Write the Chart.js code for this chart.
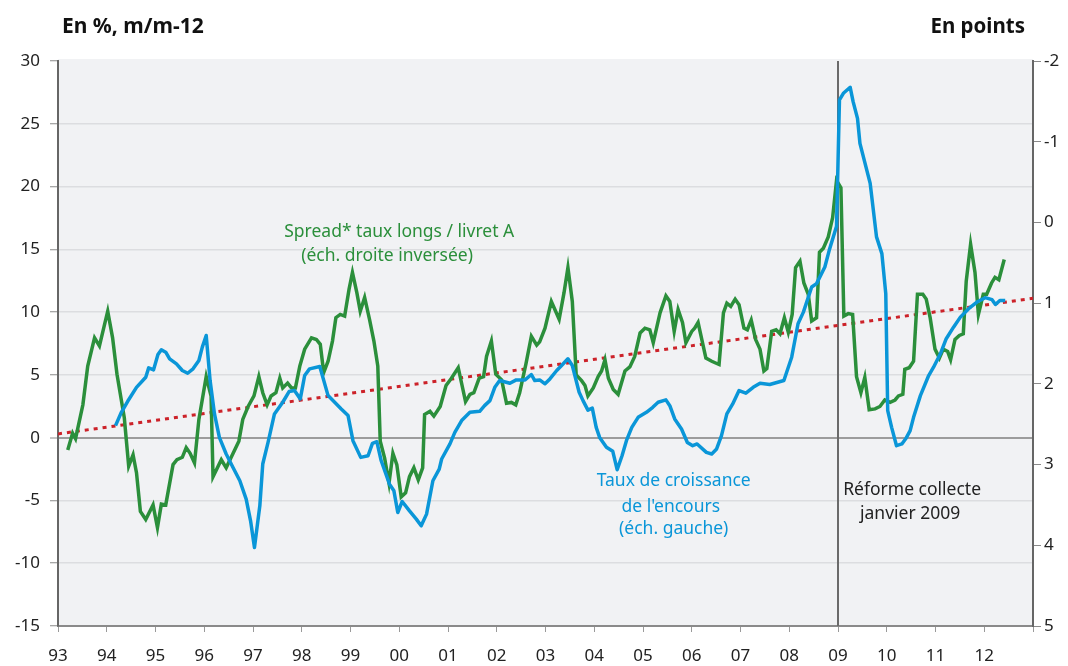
<!DOCTYPE html>
<html>
<head>
<meta charset="utf-8">
<script src="https://cdn.jsdelivr.net/npm/chart.js@4"></script>
<style>
  html,body{margin:0;padding:0;background:#fff;}
  #c{display:block;}
</style>
</head>
<body>
<canvas id="c" width="1068" height="666"></canvas>
<script>
// ---- Data ----
// Green: spread taux longs / livret A (right axis, inverted, points)
const greenYears = [
1993.20,1993.30,1993.36,1993.51,1993.61,1993.75,1993.85,1994.02,1994.12,1994.21,
1994.36,1994.45,1994.54,1994.61,1994.69,1994.80,1994.95,1995.04,1995.12,1995.21,
1995.36,1995.44,1995.55,1995.63,1995.71,1995.80,1995.89,1996.04,1996.14,1996.18,
1996.35,1996.45,1996.71,1996.79,1996.90,1997.02,1997.12,1997.20,1997.29,1997.37,
1997.47,1997.55,1997.61,1997.71,1997.79,1997.87,1997.96,1998.06,1998.20,1998.30,
1998.38,1998.45,1998.54,1998.63,1998.70,1998.79,1998.88,1998.97,1999.04,1999.13,
1999.20,1999.29,1999.39,1999.48,1999.56,1999.61,1999.70,1999.79,1999.87,1999.95,
2000.04,2000.13,2000.21,2000.30,2000.39,2000.48,2000.52,2000.63,2000.71,2000.84,
2000.96,2001.07,2001.21,2001.36,2001.45,2001.53,2001.64,2001.73,2001.79,2001.89,
2001.98,2002.10,2002.20,2002.30,2002.39,2002.47,2002.60,2002.71,2002.82,2002.88,
2002.99,2003.12,2003.28,2003.38,2003.46,2003.55,2003.63,2003.74,2003.81,2003.87,
2003.98,2004.08,2004.15,2004.22,2004.29,2004.39,2004.49,2004.63,2004.73,2004.83,
2004.94,2005.04,2005.14,2005.21,2005.35,2005.47,2005.55,2005.64,2005.72,2005.81,
2005.88,2006.00,2006.06,2006.13,2006.29,2006.41,2006.56,2006.65,2006.72,2006.80,
2006.89,2006.97,2007.07,2007.14,2007.22,2007.31,2007.40,2007.48,2007.54,2007.64,
2007.73,2007.81,2007.90,2007.98,2008.06,2008.13,2008.22,2008.30,2008.39,2008.46,
2008.56,2008.62,2008.70,2008.80,2008.89,2008.97,2009.06,2009.12,2009.21,2009.30,
2009.38,2009.47,2009.55,2009.64,2009.76,2009.86,2009.96,2010.07,2010.17,2010.24,
2010.33,2010.37,2010.46,2010.55,2010.63,2010.74,2010.81,2010.89,2010.99,2011.08,
2011.16,2011.25,2011.31,2011.40,2011.49,2011.57,2011.63,2011.72,2011.81,2011.88,
2011.98,2012.05,2012.15,2012.22,2012.30,2012.41];
const greenValues = [
2.82,2.61,2.68,2.26,1.78,1.43,1.53,1.10,1.43,1.88,
2.42,3.02,2.88,3.10,3.58,3.68,3.50,3.78,3.49,3.50,
3.00,2.94,2.91,2.79,2.86,2.98,2.44,1.91,2.15,3.15,
2.94,3.04,2.71,2.44,2.28,2.15,1.91,2.11,2.26,2.15,
2.11,1.93,2.05,1.99,2.05,2.05,1.78,1.57,1.43,1.45,
1.51,1.86,1.72,1.47,1.18,1.14,1.16,0.83,0.62,0.87,
1.10,0.93,1.20,1.47,1.78,2.71,2.92,3.23,2.86,3.00,
3.40,3.35,3.15,3.04,3.19,3.04,2.38,2.34,2.40,2.28,
2.02,1.93,1.80,2.22,2.13,2.11,1.93,1.91,1.66,1.47,
1.88,1.95,2.24,2.23,2.26,2.11,1.75,1.41,1.52,1.48,
1.31,0.98,1.20,0.87,0.56,0.98,1.89,1.96,2.02,2.15,
2.05,1.91,1.84,1.70,1.93,2.07,2.13,1.84,1.79,1.66,
1.37,1.31,1.33,1.49,1.12,0.91,0.98,1.35,1.08,1.24,
1.49,1.35,1.31,1.24,1.68,1.72,1.76,1.12,1.00,1.04,
0.95,1.02,1.31,1.33,1.21,1.45,1.57,1.84,1.81,1.35,
1.33,1.38,1.18,1.36,1.14,0.56,0.48,0.75,0.89,1.22,
1.18,0.37,0.32,0.18,-0.06,-0.52,-0.43,1.16,1.13,1.14,
1.91,2.11,1.92,2.32,2.31,2.28,2.20,2.23,2.20,2.15,
2.13,1.82,1.80,1.72,0.89,0.89,0.95,1.18,1.57,1.68,
1.57,1.60,1.70,1.45,1.40,1.38,0.73,0.27,0.62,1.14,
0.89,0.89,0.75,0.68,0.71,0.46];

// Blue: taux de croissance de l'encours (left axis, %)
const blueYears = [
1994.18,1994.30,1994.43,1994.61,1994.80,1994.86,1994.96,1995.05,1995.12,1995.21,
1995.29,1995.43,1995.55,1995.66,1995.77,1995.89,1995.96,1996.04,1996.12,1996.21,
1996.31,1996.45,1996.59,1996.73,1996.86,1996.95,1997.03,1997.14,1997.20,1997.31,
1997.44,1997.61,1997.74,1997.85,1997.97,1998.06,1998.16,1998.37,1998.54,1998.71,
1998.81,1998.95,1999.05,1999.21,1999.36,1999.45,1999.54,1999.63,1999.80,1999.89,
1999.97,2000.06,2000.21,2000.35,2000.45,2000.56,2000.69,2000.82,2000.87,2001.04,
2001.14,2001.28,2001.45,2001.65,2001.75,2001.86,2001.96,2002.06,2002.27,2002.40,
2002.58,2002.71,2002.78,2002.88,2002.99,2003.09,2003.23,2003.33,2003.46,2003.55,
2003.69,2003.77,2003.87,2003.96,2004.04,2004.11,2004.25,2004.38,2004.47,2004.57,
2004.66,2004.77,2004.90,2005.07,2005.20,2005.31,2005.47,2005.55,2005.65,2005.79,
2005.91,2006.02,2006.11,2006.30,2006.41,2006.51,2006.61,2006.72,2006.84,2006.97,
2007.11,2007.26,2007.40,2007.60,2007.89,2008.05,2008.18,2008.29,2008.46,2008.56,
2008.73,2008.82,2008.97,2009.03,2009.11,2009.25,2009.31,2009.40,2009.45,2009.66,
2009.79,2009.90,2009.98,2010.02,2010.10,2010.20,2010.31,2010.40,2010.48,2010.55,
2010.69,2010.86,2010.96,2011.10,2011.22,2011.37,2011.51,2011.68,2011.85,2012.02,
2012.16,2012.23,2012.32,2012.43];
const blueValues = [
0.96,2.02,2.90,4.01,4.81,5.56,5.40,6.62,7.00,6.81,
6.28,5.88,5.35,5.13,5.48,6.15,7.21,8.14,4.55,1.89,
0.02,-1.30,-2.37,-3.43,-4.89,-6.62,-8.75,-5.43,-2.10,-0.36,
1.89,2.82,3.67,3.75,3.09,4.95,5.48,5.67,3.35,2.69,
2.29,1.76,-0.24,-1.57,-1.44,-0.45,-0.32,-1.84,-3.70,-4.23,
-5.96,-5.08,-5.83,-6.49,-7.02,-6.09,-3.43,-2.50,-1.70,-0.50,
0.42,1.36,2.02,2.10,2.55,2.95,4.01,4.55,4.33,4.60,
4.60,5.03,4.55,4.60,4.29,4.68,5.35,5.75,6.28,5.75,
3.62,2.95,2.19,2.35,0.82,0.02,-0.77,-1.09,-2.55,-1.44,
-0.24,0.82,1.62,2.02,2.42,2.82,3.01,2.55,1.49,0.69,
-0.38,-0.64,-0.50,-1.17,-1.30,-0.90,0.16,1.89,2.69,3.75,
3.54,4.01,4.33,4.23,4.55,6.41,9.07,10.00,12.00,12.27,
13.59,14.92,16.84,26.90,27.43,27.91,26.76,25.43,23.44,20.25,
15.99,14.66,11.47,2.15,0.82,-0.64,-0.50,-0.02,0.56,1.62,
3.35,4.95,5.61,6.68,7.88,8.80,9.60,10.27,10.80,11.15,
10.99,10.61,10.93,10.93];

// Red dotted trend (left axis)
const trendYears = [1993, 2013];
const trendValues = [0.3, 11.1];

// Reform date
const reformYear = 2009;

// Axis ranges / ticks
const xMin = 1993, xMax = 2013;
const leftMin = -15, leftMax = 30, leftStep = 5;
const rightMin = -2, rightMax = 5, rightStep = 1;

const toPts = (xs, ys) => xs.map((x, i) => ({x: x, y: ys[i]}));

const GREEN = '#2b8f3b';
const BLUE = '#0a96d8';
const FONT = "'Noto Sans', 'Open Sans', sans-serif";

const bgPlugin = {
  id: 'bg',
  beforeDraw(chart) {
    const {ctx, chartArea: a} = chart;
    ctx.save();
    ctx.fillStyle = '#ffffff';
    ctx.fillRect(0, 0, chart.width, chart.height);
    ctx.fillStyle = '#f1f2f4';
    ctx.fillRect(a.left, a.top - 2, a.right - a.left, a.bottom - a.top + 2);
    ctx.restore();
  }
};

const textPlugin = {
  id: 'texts',
  afterDraw(chart) {
    const {ctx} = chart;
    const xs = chart.scales.x, ys = chart.scales.y;
    ctx.save();
    ctx.textBaseline = 'middle';
    // axis titles
    ctx.fillStyle = '#111';
    ctx.font = "bold 21px " + FONT;
    ctx.textAlign = 'left';
    ctx.fillText('En %, m/m-12', 62, 27);
    ctx.font = "bold 20.5px " + FONT;
    ctx.textAlign = 'right';
    ctx.fillText('En points', 1025, 27);
    // annotations
    ctx.font = "17.5px " + FONT;
    ctx.textAlign = 'center';
    ctx.fillStyle = GREEN;
    ctx.fillText('Spread* taux longs / livret A', xs.getPixelForValue(2000.0), ys.getPixelForValue(16.35));
    ctx.fillText('(éch. droite inversée)', xs.getPixelForValue(1999.75), ys.getPixelForValue(14.45));
    ctx.fillStyle = BLUE;
    ctx.fillText('Taux de croissance', xs.getPixelForValue(2005.63), ys.getPixelForValue(-3.45));
    ctx.fillText("de l'encours", xs.getPixelForValue(2005.57), ys.getPixelForValue(-5.5));
    ctx.fillText('(éch. gauche)', xs.getPixelForValue(2005.63), ys.getPixelForValue(-7.3));
    ctx.fillStyle = '#222';
    ctx.fillText('Réforme collecte', xs.getPixelForValue(2010.52), ys.getPixelForValue(-4.2));
    ctx.fillText('janvier 2009', xs.getPixelForValue(2010.48), ys.getPixelForValue(-6.1));
    ctx.restore();
  }
};

new Chart(document.getElementById('c'), {
  type: 'line',
  data: {
    datasets: [
      {label: 'blue', data: toPts(blueYears, blueValues), yAxisID: 'y',
       borderColor: BLUE, borderWidth: 3.5, pointRadius: 0, tension: 0, borderJoinStyle: 'round'},
      {label: 'green', data: toPts(greenYears, greenValues), yAxisID: 'y1',
       borderColor: GREEN, borderWidth: 3.5, pointRadius: 0, tension: 0, borderJoinStyle: 'miter'},
      {label: 'trend', data: toPts(trendYears, trendValues), yAxisID: 'y',
       borderColor: '#cc2229', borderWidth: 3, borderDash: [4, 5], pointRadius: 0},
      {label: 'reform', data: [{x: reformYear, y: leftMin}, {x: reformYear, y: leftMax}], yAxisID: 'y',
       borderColor: '#6a6a6a', borderWidth: 2, pointRadius: 0}
    ]
  },
  options: {
    responsive: false,
    devicePixelRatio: 1,
    animation: false,
    layout: {padding: {top: 61, left: 0, right: 0, bottom: 0}},
    plugins: {legend: {display: false}, tooltip: {enabled: false}},
    scales: {
      x: {
        type: 'linear', min: xMin, max: xMax,
        afterFit(s) { s.height = 40; },
        ticks: {
          stepSize: 1, autoSkip: false, maxRotation: 0, color: '#222', padding: 14,
          font: {family: FONT, size: 17},
          callback: v => (v >= xMax ? '' : String(v % 100).padStart(2, '0'))
        },
        grid: {drawOnChartArea: false, drawTicks: true, tickLength: 6, tickColor: '#9a9a9a', tickWidth: 1},
        border: {color: '#8a8a8a', width: 2}
      },
      y: {
        position: 'left', min: leftMin, max: leftMax,
        afterFit(s) { s.width = 58; },
        ticks: {stepSize: leftStep, color: '#222', padding: 10, font: {family: FONT, size: 17}},
        grid: {
          color: c => (c.tick.value === 0 ? '#9c9c9c' : (c.tick.value === leftMin || c.tick.value === leftMax ? 'rgba(0,0,0,0)' : '#dcdde0')),
          lineWidth: c => (c.tick.value === 0 ? 2 : 1.5),
          tickColor: '#8a8a8a', tickLength: 8, tickWidth: 1
        },
        border: {color: '#666', width: 2}
      },
      y1: {
        position: 'right', reverse: true, min: rightMin, max: rightMax,
        afterFit(s) { s.width = 35; },
        ticks: {stepSize: rightStep, color: '#222', padding: 3, font: {family: FONT, size: 17}},
        grid: {drawOnChartArea: false, tickColor: '#8a8a8a', tickLength: 8, tickWidth: 1},
        border: {color: '#666', width: 2}
      }
    }
  },
  plugins: [bgPlugin, textPlugin]
});
</script>
</body>
</html>
